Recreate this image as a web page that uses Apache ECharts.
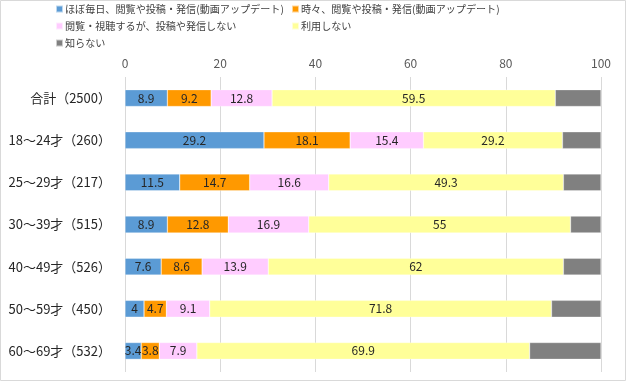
<!DOCTYPE html>
<html><head><meta charset="utf-8">
<script src="https://cdn.jsdelivr.net/npm/echarts@6/dist/echarts.min.js"></script>
<style>html,body{margin:0;padding:0;background:#fff}#c{width:628px;height:382px}</style>
</head><body><div id="c"></div>
<script>
const categories = ['合計（2500）','18～24才（260）','25～29才（217）','30～39才（515）','40～49才（526）','50～59才（450）','60～69才（532）'];
const seriesNames = ['ほぼ毎日、閲覧や投稿・発信(動画アップデート)','時々、閲覧や投稿・発信(動画アップデート)','閲覧・視聴するが、投稿や発信しない','利用しない','知らない'];
const daily = [8.9,29.2,11.5,8.9,7.6,4,3.4];
const sometimes = [9.2,18.1,14.7,12.8,8.6,4.7,3.8];
const viewOnly = [12.8,15.4,16.6,16.9,13.9,9.1,7.9];
const notUse = [59.5,29.2,49.3,55,62,71.8,69.9];
const unknown = [9.6,8.1,7.9,6.4,7.9,10.4,15];
const xTicks = [0,20,40,60,80,100];
const colors = ['#5B9BD5','#FF9900','#FFCCFF','#FFFF99','#808080'];
const values = [daily, sometimes, viewOnly, notUse, unknown];

const chart = echarts.init(document.getElementById('c'));
const legendPos = [[55,4],[291,4],[55,21],[291,21],[55,38]];
const font = "'Noto Sans CJK JP', sans-serif";
chart.setOption({
  animation:false,
  textStyle:{fontFamily:font},
  graphic:[{type:'rect',shape:{x:0.5,y:0.5,width:625,height:380},style:{fill:'none',stroke:'#d9d9d9',lineWidth:1}}],
  legend: seriesNames.map((n,i)=>({data:[n],left:legendPos[i][0],top:legendPos[i][1],itemWidth:7,itemHeight:7,itemGap:4,padding:0,icon:'rect',
    textStyle:{fontSize:10.1,color:'#404040',fontFamily:font,padding:[0,0,0,-3]}})),
  grid:{left:125,right:27,top:77,bottom:10},
  xAxis:{type:'value',min:0,max:100,interval:20,position:'top',
    axisLabel:{fontSize:12,color:'#595959',margin:8,formatter:v=>xTicks.includes(v)?String(v):''},
    splitLine:{lineStyle:{color:'#d9d9d9'}},axisLine:{show:false},axisTick:{show:false}},
  yAxis:{type:'category',data:categories,inverse:true,
    axisLabel:{fontSize:13,color:'#262626',margin:14},axisLine:{show:false},axisTick:{show:false}},
  series: seriesNames.map((n,i)=>({name:n,type:'bar',stack:'s',barWidth:'40%',data:values[i],
    itemStyle:{color:colors[i],borderColor:'rgba(255,255,255,0.6)',borderWidth:0.5},
    label:{show:i<4,position:'inside',fontSize:12,color:'#262626'}}))
});
</script></body></html>
